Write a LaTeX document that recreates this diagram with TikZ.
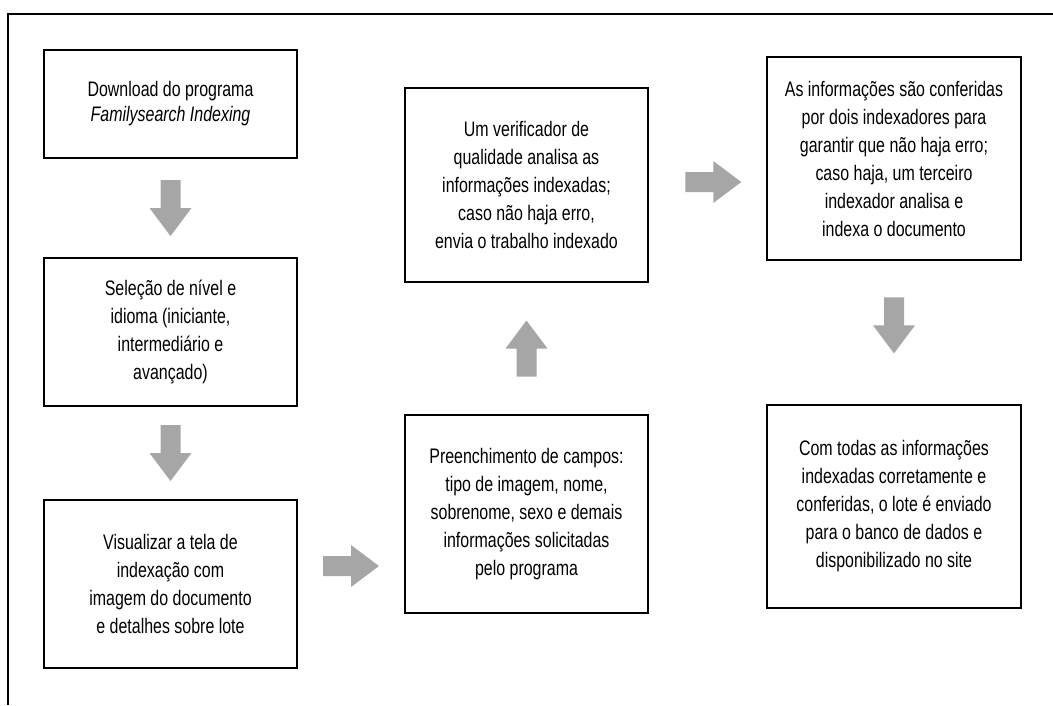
\documentclass[tikz,border=0pt]{standalone}
\usepackage{fontspec}
\setmainfont[FakeStretch=0.76]{Liberation Sans}
\usetikzlibrary{calc}
\definecolor{arrowgray}{RGB}{166,166,166}
\tikzset{
  box/.style={draw=black, line width=2.6pt, align=center, inner sep=0pt,
    font=\fontsize{21}{28}\selectfont},
  frame/.style={draw=black, line width=2.4pt},
}
\newcommand\blockarrow[2]{\fill[arrowgray, shift={(#1)}, rotate=#2]
  (-28,-10) -- (0,-10) -- (0,-21) -- (28,0) -- (0,21) -- (0,10) -- (-28,10) -- cycle;}
\begin{document}
\begin{tikzpicture}[x=1pt,y=-1pt]
\useasboundingbox (0,0) rectangle (1053,705);
\draw[frame] (1053,14) -- (8,14) -- (8,705);

\node[box, minimum width=253, minimum height=108, font=\fontsize{21}{25}\selectfont] (b1) at (170.5,104)
  {Download do programa\\\textit{Familysearch Indexing}};
\node[box, minimum width=253, minimum height=148] (b2) at (170.5,332)
  {Seleção de nível e\\idioma (iniciante,\\intermediário e\\avançado)};
\node[box, minimum width=253, minimum height=168] (b3) at (170.5,584)
  {Visualizar a tela de\\indexação com\\imagem do documento\\e detalhes sobre lote};
\node[box, minimum width=243, minimum height=198] (b4) at (526.5,514)
  {Preenchimento de campos:\\tipo de imagem, nome,\\sobrenome, sexo e demais\\informações solicitadas\\pelo programa};
\node[box, minimum width=243, minimum height=194] (b5) at (526.5,185)
  {Um verificador de\\qualidade analisa as\\informações indexadas;\\caso não haja erro,\\envia o trabalho indexado};
\node[box, minimum width=254, minimum height=203] (b6) at (894,158.5)
  {As informações são conferidas\\por dois indexadores para\\garantir que não haja erro;\\caso haja, um terceiro\\indexador analisa e\\indexa o documento};
\node[box, minimum width=254, minimum height=203] (b7) at (894,506.5)
  {Com todas as informações\\indexadas corretamente e\\conferidas, o lote é enviado\\para o banco de dados e\\disponibilizado no site};

\coordinate (a1) at ($(b1.south)!0.5!(b2.north)$);
\coordinate (a2) at ($(b2.south)!0.5!(b3.north)$);
\coordinate (a3) at ($(b3.east |- 0,566)!0.5!(b4.west |- 0,566)$);
\coordinate (a4) at ($(b4.north)!0.5!(b5.south)$);
\coordinate (a5) at ($(b5.east |- 0,182)!0.55!(b6.west |- 0,182)$);
\coordinate (a6) at ($(b6.south)!0.45!(b7.north)$);

\blockarrow{a1}{-90}
\blockarrow{a2}{-90}
\blockarrow{a3}{0}
\blockarrow{a4}{90}
\blockarrow{a5}{0}
\blockarrow{a6}{-90}
\end{tikzpicture}
\end{document}
